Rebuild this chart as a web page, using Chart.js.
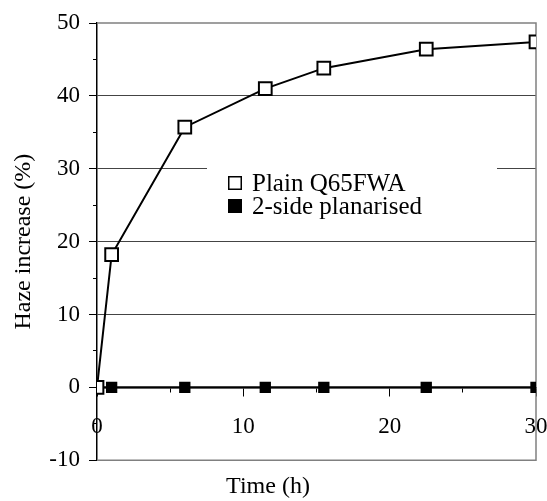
<!DOCTYPE html>
<html>
<head>
<meta charset="utf-8">
<script src="https://cdn.jsdelivr.net/npm/chart.js@4/dist/chart.umd.min.js"></script>
<style>
  html, body { margin: 0; padding: 0; background: #fff; }
  #wrap { width: 547px; height: 501px; }
</style>
</head>
<body>
<div id="wrap"><canvas id="hazeChart" width="547" height="501"></canvas></div>
<script>
// Data
const seriesLabels = ['Plain Q65FWA', '2-side planarised'];
const timesPlain = [0, 1, 6, 11.5, 15.5, 22.5, 30];
const hazePlain = [0, 18.2, 35.7, 41.0, 43.8, 46.4, 47.4];
const timesPlanar = [0, 1, 6, 11.5, 15.5, 22.5, 30];
const hazePlanar = [0, 0, 0, 0, 0, 0, 0];

const serif = "'Liberation Serif', 'Times New Roman', serif";
const tickSize = 23;
const titleSize = 24;
const legendSize = 25;

function toPoints(xs, ys) {
    return xs.map((x, i) => ({ x: x, y: ys[i] }));
}

// Grey border round the plot area (top, right, bottom)
const plotFrame = {
    id: 'plotFrame',
    beforeDatasetsDraw(chart) {
        const { ctx, chartArea: a } = chart;
        ctx.save();
        ctx.strokeStyle = '#808080';
        ctx.lineWidth = 1.5;
        ctx.beginPath();
        ctx.moveTo(a.left, a.top);
        ctx.lineTo(a.right, a.top);
        ctx.lineTo(a.right, a.bottom);
        ctx.lineTo(a.left, a.bottom);
        ctx.stroke();
        ctx.restore();
    }
};

// Legend box sitting inside the plot, over the 30 % gridline
const insideLegend = {
    id: 'insideLegend',
    beforeDatasetsDraw(chart) {
        const { ctx } = chart;
        const x = 207, y = 160, w = 290, h = 74;
        ctx.save();
        ctx.fillStyle = '#fff';
        ctx.fillRect(x, y, w, h);
        ctx.font = legendSize + 'px ' + serif;
        ctx.textBaseline = 'middle';
        chart.data.datasets.forEach((ds, i) => {
            const cy = 183 + i * 23;
            const bx = 228, s = 14;
            if (ds.pointBackgroundColor === '#000') {
                ctx.fillStyle = '#000';
                ctx.fillRect(bx, cy - s / 2, s, s);
            } else {
                ctx.strokeStyle = '#000';
                ctx.lineWidth = 1.5;
                ctx.strokeRect(bx + 0.75, cy - s / 2 + 0.75, s - 1.5, s - 1.5);
            }
            ctx.fillStyle = '#000';
            ctx.fillText(ds.label, 252, cy + 1);
        });
        ctx.restore();
    }
};

const chart = new Chart(document.getElementById('hazeChart'), {
    type: 'line',
    data: {
        datasets: [
            {
                label: seriesLabels[0],
                data: toPoints(timesPlain, hazePlain),
                borderColor: '#000',
                borderWidth: 2,
                pointStyle: 'rect',
                pointRadius: 9,
                pointBorderWidth: 2,
                pointBorderColor: '#000',
                pointBackgroundColor: '#fff',
                tension: 0
            },
            {
                label: seriesLabels[1],
                data: toPoints(timesPlanar, hazePlanar),
                borderColor: '#000',
                borderWidth: 2,
                pointStyle: 'rect',
                pointRadius: 8,
                pointBorderWidth: 0,
                pointBorderColor: '#000',
                pointBackgroundColor: '#000',
                tension: 0
            }
        ]
    },
    options: {
        responsive: false,
        animation: false,
        layout: { padding: { top: 23, right: 11, left: 0, bottom: 0 } },
        plugins: {
            legend: { display: false },
            tooltip: { enabled: false },
            title: {
                display: true,
                position: 'bottom',
                text: 'Time (h)',
                color: '#000',
                font: { family: serif, size: titleSize, weight: 'normal' },
                padding: { top: 12, bottom: 0 }
            }
        },
        scales: {
            x: {
                type: 'linear',
                position: { y: 0 },
                min: 0,
                max: 30,
                afterFit(scale) { scale.paddingLeft = 0; scale.paddingRight = 0; },
                ticks: {
                    stepSize: 5,
                    color: '#000',
                    padding: 18,
                    maxRotation: 0,
                    font: { family: serif, size: tickSize },
                    callback: v => (v % 10 === 0 ? v : '')
                },
                grid: {
                    drawOnChartArea: false,
                    drawTicks: true,
                    tickLength: 8,
                    tickColor: '#000',
                    tickBorderDash: c => (c.tick && c.tick.value % 10 !== 0) ? [4, 20] : [],
                    tickBorderDashOffset: 0
                },
                border: { display: true, color: '#000', width: 1.5 }
            },
            y: {
                min: -10,
                max: 50,
                afterFit(scale) { scale.width = 97; },
                title: {
                    display: true,
                    text: 'Haze increase (%)',
                    color: '#000',
                    font: { family: serif, size: titleSize },
                    padding: { top: 9, bottom: 0 }
                },
                ticks: {
                    stepSize: 5,
                    color: '#000',
                    padding: 9,
                    font: { family: serif, size: tickSize },
                    callback: v => (v % 10 === 0 ? v : '')
                },
                grid: {
                    color: c => (c.tick && c.tick.value % 10 === 0 && c.tick.value > 0 && c.tick.value < 50) ? '#444' : 'rgba(0,0,0,0)',
                    lineWidth: 1,
                    tickColor: '#000',
                    tickLength: 8,
                    tickBorderDash: c => (c.tick && c.tick.value % 10 !== 0) ? [4, 4] : [],
                    tickBorderDashOffset: c => (c.tick && c.tick.value % 10 !== 0) ? 4 : 0
                },
                border: { display: true, color: '#000', width: 1.5 }
            }
        }
    },
    plugins: [plotFrame, insideLegend]
});
</script>
</body>
</html>
